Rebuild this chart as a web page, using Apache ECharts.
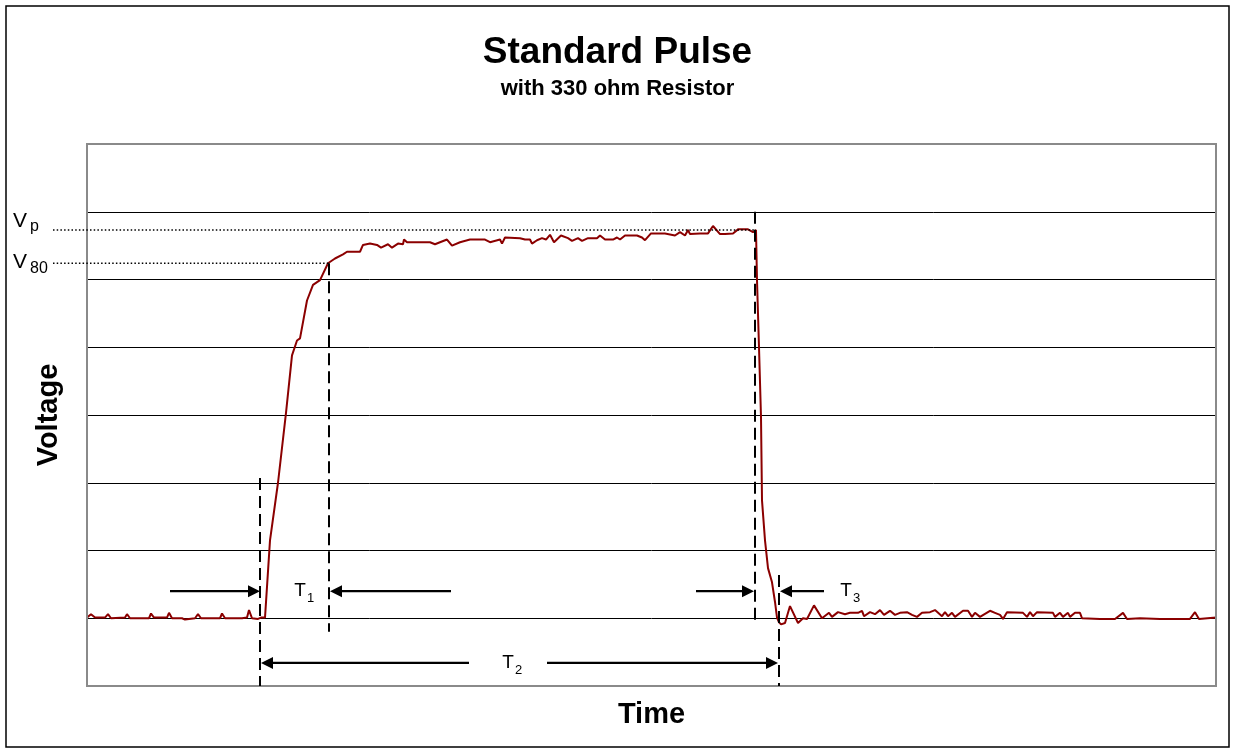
<!DOCTYPE html>
<html>
<head>
<meta charset="utf-8">
<script src="https://cdn.jsdelivr.net/npm/echarts@6/dist/echarts.min.js"></script>
<style>
  html, body { margin: 0; padding: 0; background: #fff; }
  #chart-standard-pulse { width: 1235px; height: 751px; }
</style>
</head>
<body>
<div id="chart-standard-pulse"></div>
<script>
// scope trace, time in samples, voltage in grid divisions
const timeData = [
  0, 4, 8, 18, 21, 24, 38, 40, 43, 62, 64, 67, 80, 82, 85, 95, 98, 108, 111, 114,
  133, 135, 138, 155, 160, 162, 165, 171, 174, 178,
  183, 191, 199, 205, 210, 213, 220, 226, 233, 241, 248, 256, 260, 273, 276, 283,
  290, 294, 301, 305, 311, 316, 317, 320, 343, 348, 353, 360, 365, 373, 383, 398,
  403, 413, 415, 418, 433, 438, 443, 445, 450, 455, 459, 463,
  467, 474, 481, 485, 491, 495, 501, 510, 513, 518, 526, 530, 533, 538, 550, 555,
  558, 564, 578, 588, 593, 598, 601, 603, 613, 621, 626, 633, 638, 646, 651, 661,
  666, 669,
  670, 672, 674, 675, 678, 681, 685, 688, 690, 692, 694, 698, 703, 711, 716, 720,
  727, 735, 742, 745, 751, 758, 763, 771, 775, 777, 783, 788, 793, 797, 803, 808,
  813, 820, 825, 830, 835, 843, 848, 855, 858, 861, 865, 868, 876, 881, 885, 888,
  893, 903, 908, 913, 916, 920, 936, 940, 943, 946, 950, 966, 968, 973, 976, 981,
  983, 988, 993, 995, 1013, 1028, 1036, 1040, 1053, 1073, 1088, 1103, 1108, 1112, 1129
];
const voltData = [
  0.01, 0.06, 0.01, 0.01, 0.06, 0.00, 0.01, 0.06, 0.00, 0.00, 0.07, 0.01, 0.01, 0.08, 0.00, 0.00, -0.02, 0.00, 0.06, 0.00,
  0.00, 0.07, 0.00, 0.00, 0.01, 0.12, 0.00, -0.01, 0.01, 0.01,
  1.15, 2.00, 3.03, 3.88, 4.10, 4.13, 4.69, 4.92, 4.99, 5.24, 5.31, 5.37, 5.41, 5.41, 5.51, 5.53,
  5.51, 5.47, 5.52, 5.47, 5.53, 5.52, 5.59, 5.55, 5.55, 5.52, 5.55, 5.59, 5.50, 5.55, 5.59, 5.59,
  5.55, 5.59, 5.53, 5.62, 5.61, 5.59, 5.59, 5.53, 5.58, 5.61, 5.59, 5.66,
  5.55, 5.65, 5.61, 5.57, 5.61, 5.57, 5.61, 5.61, 5.65, 5.59, 5.59, 5.62, 5.59, 5.65, 5.65, 5.62,
  5.58, 5.68, 5.68, 5.65, 5.70, 5.65, 5.73, 5.67, 5.68, 5.68, 5.79, 5.67, 5.67, 5.68, 5.74, 5.74,
  5.70, 5.73,
  4.99, 4.00, 2.97, 1.74, 1.15, 0.74, 0.53, 0.24, 0.01, -0.06, -0.09, -0.07, 0.18, -0.07, 0.00, -0.01,
  0.19, 0.00, 0.08, 0.02, 0.09, 0.06, 0.08, 0.08, 0.11, 0.03, 0.09, 0.06, 0.12, 0.05, 0.11, 0.05,
  0.08, 0.09, 0.05, 0.02, 0.08, 0.09, 0.12, 0.03, 0.09, 0.03, 0.08, 0.02, 0.11, 0.11, 0.02, 0.08,
  0.02, 0.11, 0.08, 0.05, -0.01, 0.09, 0.08, 0.02, 0.09, 0.03, 0.09, 0.08, 0.02, 0.08, 0.02, 0.08,
  0.02, 0.08, 0.08, 0.00, -0.01, -0.01, 0.08, -0.01, 0.00, -0.01, -0.01, -0.01, 0.09, -0.01, 0.01
];

// reference levels: [subscript, voltage, time where the dotted line stops]
const levelNames = ['p', '80'];
const levelValues = [5.73, 5.24];
const levelEnds = [668, 242];

// dashed timing markers: [time, top voltage, bottom voltage]
const markerLines = [
  [173, 2.07, -1],
  [242, 5.24, -0.2],
  [668, 6.0, -0.06],
  [692, 0.64, -1]
];

// arrows: [from time, to time, voltage level]
const arrowSpecs = [
  [83, 173, 0.4],
  [364, 243, 0.4],
  [609, 667, 0.4],
  [737, 693, 0.4],
  [382, 174, -0.66],
  [460, 691, -0.66]
];

// interval labels: [subscript, time, voltage]
const intervalLabels = [
  ['1', 213, 0.4],
  ['2', 421, -0.66],
  ['3', 759, 0.4]
];

const FONT = 'Liberation Sans, Arial, sans-serif';

const element = document.getElementById('chart-standard-pulse');
const chart = echarts.init(element, null, { width: 1235, height: 751 });

chart.setOption({
  animation: false,
  textStyle: { fontFamily: FONT },
  title: {
    text: 'Standard Pulse',
    subtext: 'with 330 ohm Resistor',
    left: 'center',
    top: 29,
    itemGap: 7,
    textStyle: { fontFamily: FONT, fontSize: 37, fontWeight: 'bold', color: '#000' },
    subtextStyle: { fontFamily: FONT, fontSize: 22, fontWeight: 'bold', color: '#000' }
  },
  grid: {
    left: 87,
    right: 19,
    top: 144,
    bottom: 65,
    show: false
  },
  xAxis: {
    type: 'value',
    min: 0,
    max: 1129,
    name: 'Time',
    nameLocation: 'middle',
    nameGap: 14,
    nameTextStyle: {
      fontFamily: FONT,
      fontSize: 29,
      fontWeight: 'bold',
      color: '#000',
      verticalAlign: 'top'
    },
    axisLine: { show: false },
    axisTick: { show: false },
    axisLabel: { show: false },
    splitLine: { show: false }
  },
  yAxis: {
    type: 'value',
    min: -1,
    max: 7,
    interval: 1,
    name: 'Voltage',
    nameLocation: 'middle',
    nameGap: 24,
    nameTextStyle: {
      fontFamily: FONT,
      fontSize: 29,
      fontWeight: 'bold',
      color: '#000'
    },
    axisLine: { show: false },
    axisTick: { show: false },
    axisLabel: { show: false },
    splitLine: { show: true, lineStyle: { color: '#000', width: 1 } }
  },
  series: [
    {
      type: 'line',
      data: timeData.map((t, i) => [t, voltData[i]]),
      showSymbol: false,
      symbol: 'none',
      lineStyle: { color: '#8b0000', width: 2 },
      z: 3
    }
  ]
});

const toPx = (t, v) => chart.convertToPixel({ gridIndex: 0 }, [t, v]);

const graphics = [];

// outer frame
graphics.push({
  type: 'rect',
  shape: { x: 6, y: 6, width: 1223, height: 741 },
  style: { fill: 'none', stroke: '#000', lineWidth: 1.5 },
  z: 0
});

// grey plot-area border drawn over the end grid lines
const corner0 = toPx(0, 7);
const corner1 = toPx(1129, -1);
graphics.push({
  type: 'rect',
  shape: {
    x: corner0[0],
    y: corner0[1],
    width: corner1[0] - corner0[0],
    height: corner1[1] - corner0[1]
  },
  style: { fill: 'none', stroke: '#8a8a8a', lineWidth: 2 },
  z: 5
});

// dotted reference levels with V labels
levelNames.forEach((name, i) => {
  const end = toPx(levelEnds[i], levelValues[i]);
  const startX = 53;
  graphics.push({
    type: 'line',
    shape: { x1: startX, y1: end[1], x2: end[0], y2: end[1] },
    style: { stroke: '#000', lineWidth: 1.5, lineDash: [1.5, 2.2] },
    z: 10
  });
  const dy = i === 0 ? -9 : -1;
  graphics.push({
    type: 'text',
    style: {
      text: 'V', x: 13, y: end[1] + dy, fontFamily: FONT, fontSize: 21,
      fill: '#000', textVerticalAlign: 'middle'
    },
    z: 10
  });
  graphics.push({
    type: 'text',
    style: {
      text: name, x: 30, y: end[1] + dy + 6, fontFamily: FONT, fontSize: 16,
      fill: '#000', textVerticalAlign: 'middle'
    },
    z: 10
  });
});

// dashed vertical markers
markerLines.forEach(([t, top, bottom]) => {
  const a = toPx(t, top);
  const b = toPx(t, bottom);
  graphics.push({
    type: 'line',
    shape: { x1: a[0], y1: a[1], x2: b[0], y2: b[1] },
    style: { stroke: '#000', lineWidth: 2, lineDash: [12, 6] },
    z: 10
  });
});

// arrows
arrowSpecs.forEach(([from, to, level]) => {
  const a = toPx(from, level);
  const b = toPx(to, level);
  const dir = b[0] > a[0] ? 1 : -1;
  graphics.push({
    type: 'line',
    shape: { x1: a[0], y1: a[1], x2: b[0] - dir * 8, y2: b[1] },
    style: { stroke: '#000', lineWidth: 2.2 },
    z: 10
  });
  graphics.push({
    type: 'polygon',
    shape: { points: [[b[0], b[1]], [b[0] - dir * 12, b[1] - 6], [b[0] - dir * 12, b[1] + 6]] },
    style: { fill: '#000' },
    z: 10
  });
});

// T labels
intervalLabels.forEach(([sub, t, v]) => {
  const p = toPx(t, v);
  graphics.push({
    type: 'text',
    style: {
      text: 'T', x: p[0], y: p[1], fontFamily: FONT, fontSize: 19,
      fill: '#000', textAlign: 'center', textVerticalAlign: 'middle'
    },
    z: 10
  });
  graphics.push({
    type: 'text',
    style: {
      text: sub, x: p[0] + 7, y: p[1] + 7, fontFamily: FONT, fontSize: 13,
      fill: '#000', textVerticalAlign: 'middle'
    },
    z: 10
  });
});

chart.setOption({ graphic: graphics });
</script>
</body>
</html>
